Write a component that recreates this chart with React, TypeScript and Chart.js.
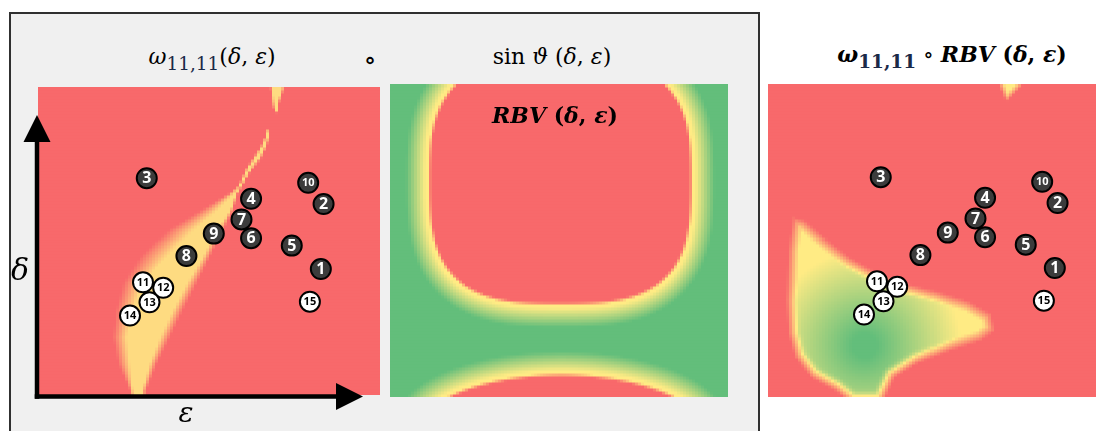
import React, { useEffect, useRef } from 'react';
import { Chart, registerables } from 'chart.js';

Chart.register(...registerables);

// ---------- data (ε horizontal, δ vertical; both) ----------
const MARKER_LABELS = ['1', '2', '3', '4', '5', '6', '7', '8', '9', '10', '11', '12', '13', '14', '15'];
const MARKER_EPS = [82.7, 83.5, 31.8, 62.3, 74.2, 62.3, 59.5, 43.4, 51.4, 79.0, 30.7, 36.6, 32.6, 26.9, 79.5];
const MARKER_DELTA = [40.9, 62.0, 70.4, 63.7, 48.5, 50.9, 57.0, 45.1, 52.4, 68.9, 36.6, 34.8, 30.1, 25.8, 30.3];
const MARKER_KIND = ['dark', 'dark', 'dark', 'dark', 'dark', 'dark', 'dark', 'dark', 'dark', 'dark', 'light', 'light', 'light', 'light', 'light'];

// ω_{11,11}(δ, ε): the yellow ridge, row by row (δ) — outer edges and yellow core (ε)
const OMEGA_DELTA = [0, 1.6, 10.4, 18.8, 27.6, 36.4, 44.8, 53.6, 60.1, 65.9, 67.9, 73.1, 77.3, 81.2, 84.4, 86.4, 86.7, 91.6, 91.9, 95.8, 100];
const OMEGA_EDGE_L = [26.9, 26.9, 23.4, 21.9, 22.8, 24.9, 29.8, 37.7, 47.4, 56.1, 58.5, 60.5, 62.9, 65.2, 66.4, 67.0, 67.5, 69.6, 69.0, 68.4, 67.8];
const OMEGA_CORE_L = [28.1, 27.8, 26.9, 26.0, 27.8, 30.7, 37.7, 45.3, 52.3, 57.3, 58.9, 61.1, 63.7, 65.8, 67.0, 67.3, 67.5, 69.6, 69.3, 69.0, 68.7];
const OMEGA_CORE_R = [30.4, 30.4, 32.7, 35.7, 39.5, 43.6, 48.2, 52.3, 56.1, 57.9, 59.2, 61.7, 64.6, 66.4, 67.3, 67.5, 67.5, 69.6, 69.6, 70.2, 71.3];
const OMEGA_EDGE_R = [31.6, 31.6, 34.8, 38.6, 42.4, 46.5, 50.3, 54.1, 57.0, 58.5, 59.6, 62.3, 65.5, 67.0, 67.8, 67.8, 67.5, 69.6, 69.9, 70.8, 72.2];
const OMEGA_PEAK = 0.44;

// RBV(δ, ε): two red (low) regions – a rounded square on top and an ellipse at the bottom
const RBV_CENTER_EPS = [50.4, 50.7];
const RBV_CENTER_DELTA = [69.0, -11.5];
const RBV_HALF_EPS = [39.2, 43.1];
const RBV_HALF_DELTA = [39.5, 19.2];
const RBV_POWER = [3, 2];

// ω ∘ RBV: the favourable (yellow–green) lobe and the small tip at the top
const BLOB_EPS = [6.1, 9.6, 15.5, 23.1, 31.0, 39.8, 47.7, 57.3, 64.0, 65.2, 61.1, 52.3, 42.7, 36.0, 32.5, 23.1, 18.4, 11.4, 6.7, 4.7, 4.1, 4.7];
const BLOB_DELTA = [57.5, 56.5, 51.0, 44.5, 39.6, 36.0, 33.8, 30.5, 26.3, 20.8, 17.5, 14.3, 10.1, 5.5, -2.9, -2.9, 1.3, 5.5, 12.0, 19.8, 30.5, 46.8];
const TIP_EPS = [65.2, 75.4, 68.4];
const TIP_DELTA = [102.6, 102.6, 94.8];
const GREEN_CORE = [27.2, 15.9, 28.0]; // ε, δ, reach (ε units)

// ---------- colour scale (red – yellow – green) ----------
const RED = [248, 105, 107];
const YELLOW = [255, 235, 132];
const GREEN = [99, 190, 123];

function clamp01(v: number) {
  return v < 0 ? 0 : v > 1 ? 1 : v;
}

function scaleColor(v: number): string {
  const t = clamp01(v);
  let a = RED, b = YELLOW, f = t / 0.5;
  if (t > 0.5) {
    a = YELLOW; b = GREEN; f = (t - 0.5) / 0.5;
  }
  const c = a.map((x, i) => Math.round(x + (b[i] - x) * f));
  return `rgb(${c[0]},${c[1]},${c[2]})`;
}

// ---------- value functions ----------
function omegaValue(e: number, d: number): number {
  const D = OMEGA_DELTA;
  if (d < D[0] || d > D[D.length - 1]) return 0;
  let i = 0;
  while (i < D.length - 2 && d > D[i + 1]) i++;
  const t = (d - D[i]) / (D[i + 1] - D[i]);
  const lp = (arr: number[]) => arr[i] + (arr[i + 1] - arr[i]) * t;
  const L = lp(OMEGA_EDGE_L), CL = lp(OMEGA_CORE_L), CR = lp(OMEGA_CORE_R), R = lp(OMEGA_EDGE_R);
  if (e <= L || e >= R) return 0;
  let f = 1;
  if (e < CL) f = (e - L) / Math.max(1e-6, CL - L);
  else if (e > CR) f = (R - e) / Math.max(1e-6, R - CR);
  return OMEGA_PEAK * clamp01(f);
}

function makeRbv(chart: any) {
  const xs = chart.scales.x, ys = chart.scales.y;
  const shapes = RBV_CENTER_EPS.map((ce, k) => {
    const cx = xs.getPixelForValue(ce);
    const cy = ys.getPixelForValue(RBV_CENTER_DELTA[k]);
    const ax = Math.abs(xs.getPixelForValue(ce + RBV_HALF_EPS[k]) - cx);
    const by = Math.abs(ys.getPixelForValue(RBV_CENTER_DELTA[k] + RBV_HALF_DELTA[k]) - cy);
    return { cx, cy, ax, by, p: RBV_POWER[k] };
  });
  const ring = (s: number) => {
    if (s < -3) return 0;
    if (s < 0) return 0.5 * (s + 3) / 3;
    if (s < 2.5) return 0.5;
    if (s < 22) return 0.5 + 0.5 * (s - 2.5) / 19.5;
    return 1;
  };
  return (_e: number, _d: number, px: number, py: number) => {
    let v = 1;
    for (const sh of shapes) {
      const u = Math.abs(px - sh.cx) / sh.ax;
      const w = Math.abs(py - sh.cy) / sh.by;
      const g = Math.pow(u, sh.p) + Math.pow(w, sh.p);
      const r = Math.pow(g, 1 / sh.p);
      if (r < 0.6) { v = 0; continue; }
      const common = Math.pow(g, 1 / sh.p - 1);
      const gx = Math.pow(u, sh.p - 1) * common / sh.ax;
      const gy = Math.pow(w, sh.p - 1) * common / sh.by;
      const grad = Math.hypot(gx, gy) || 1e-6;
      const s = (r - 1) / grad;
      v = Math.min(v, ring(s));
    }
    return v;
  };
}

function polySigned(px: number, py: number, X: number[], Y: number[]): number {
  let inside = false;
  let minD = Infinity;
  const n = X.length;
  for (let i = 0, j = n - 1; i < n; j = i++) {
    const xi = X[i], yi = Y[i], xj = X[j], yj = Y[j];
    if ((yi > py) !== (yj > py) && px < ((xj - xi) * (py - yi)) / (yj - yi) + xi) inside = !inside;
    const dx = xj - xi, dy = yj - yi;
    const L2 = dx * dx + dy * dy;
    let t = L2 ? ((px - xi) * dx + (py - yi) * dy) / L2 : 0;
    t = clamp01(t);
    const ex = xi + t * dx - px, ey = yi + t * dy - py;
    const dd = Math.hypot(ex, ey);
    if (dd < minD) minD = dd;
  }
  return inside ? minD : -minD;
}

function makeComposite(chart: any) {
  const xs = chart.scales.x, ys = chart.scales.y;
  const bx = BLOB_EPS.map((e) => xs.getPixelForValue(e));
  const by = BLOB_DELTA.map((d) => ys.getPixelForValue(d));
  const tx = TIP_EPS.map((e) => xs.getPixelForValue(e));
  const ty = TIP_DELTA.map((d) => ys.getPixelForValue(d));
  const gx = xs.getPixelForValue(GREEN_CORE[0]);
  const gy = ys.getPixelForValue(GREEN_CORE[1]);
  const reach = Math.abs(xs.getPixelForValue(GREEN_CORE[0] + GREEN_CORE[2]) - gx);
  return (_e: number, _d: number, px: number, py: number) => {
    const s1 = polySigned(px, py, bx, by);
    let v1 = 0.5 * clamp01(s1 / 11);
    if (s1 > 0) {
      const dist = Math.hypot(px - gx, py - gy);
      const gf = clamp01(1.15 * (1 - dist / reach)) * clamp01(s1 / 14);
      v1 += 0.5 * gf;
    }
    const s2 = polySigned(px, py, tx, ty);
    const v2 = 0.5 * clamp01(s2 / 6);
    return Math.max(v1, v2);
  };
}

// ---------- plugins ----------
function heatmapPlugin(nx: number, ny: number, makeValue: (chart: any) => (e: number, d: number, px: number, py: number) => number) {
  return {
    id: 'heatmap',
    beforeDatasetsDraw(chart: any) {
      const { ctx, chartArea: a } = chart;
      const xs = chart.scales.x, ys = chart.scales.y;
      const fn = makeValue(chart);
      ctx.save();
      ctx.beginPath();
      ctx.rect(a.left, a.top, a.right - a.left, a.bottom - a.top);
      ctx.clip();
      for (let i = 0; i < nx; i++) {
        const e0 = xs.min + ((xs.max - xs.min) * i) / nx;
        const e1 = xs.min + ((xs.max - xs.min) * (i + 1)) / nx;
        const px0 = Math.round(xs.getPixelForValue(e0));
        const px1 = Math.round(xs.getPixelForValue(e1));
        const ec = (e0 + e1) / 2;
        const pxc = xs.getPixelForValue(ec);
        for (let j = 0; j < ny; j++) {
          const d0 = ys.min + ((ys.max - ys.min) * j) / ny;
          const d1 = ys.min + ((ys.max - ys.min) * (j + 1)) / ny;
          const pyTop = Math.round(ys.getPixelForValue(d1));
          const pyBot = Math.round(ys.getPixelForValue(d0));
          const dc = (d0 + d1) / 2;
          const pyc = ys.getPixelForValue(dc);
          ctx.fillStyle = scaleColor(fn(ec, dc, pxc, pyc));
          ctx.fillRect(px0, pyTop, px1 - px0 + 0.5, pyBot - pyTop + 0.5);
        }
      }
      ctx.restore();
    },
  };
}

const markerLabelPlugin = {
  id: 'markerLabels',
  afterDatasetsDraw(chart: any) {
    const meta = chart.getDatasetMeta(0);
    if (!meta || !meta.data) return;
    const ctx = chart.ctx;
    ctx.save();
    ctx.textAlign = 'center';
    ctx.textBaseline = 'middle';
    meta.data.forEach((el: any, i: number) => {
      const lbl = MARKER_LABELS[i];
      const dark = MARKER_KIND[i] === 'dark';
      const size = lbl.length > 1 ? 11 : 16;
      ctx.font = `bold ${size}px "Open Sans", "Noto Sans", sans-serif`;
      ctx.fillStyle = dark ? '#ffffff' : '#000000';
      ctx.fillText(lbl, el.x, el.y + 0.5);
    });
    ctx.restore();
  },
};

const axisArrowPlugin = {
  id: 'axisArrows',
  afterDraw(chart: any) {
    const { ctx, chartArea: a } = chart;
    const x0 = a.left - 1;
    const y0 = a.bottom + 1.5;
    ctx.save();
    ctx.strokeStyle = '#000';
    ctx.fillStyle = '#000';
    ctx.lineWidth = 4.5;
    ctx.beginPath();
    ctx.moveTo(x0, y0 + 2.25);
    ctx.lineTo(x0, a.top + 50);
    ctx.stroke();
    ctx.beginPath();
    ctx.moveTo(x0 - 2.25, y0);
    ctx.lineTo(a.right - 40, y0);
    ctx.stroke();
    ctx.beginPath();
    ctx.moveTo(x0, a.top + 28);
    ctx.lineTo(x0 - 13.5, a.top + 55);
    ctx.lineTo(x0 + 13.5, a.top + 55);
    ctx.closePath();
    ctx.fill();
    ctx.beginPath();
    ctx.moveTo(a.right - 17, y0);
    ctx.lineTo(a.right - 44, y0 - 13.5);
    ctx.lineTo(a.right - 44, y0 + 13.5);
    ctx.closePath();
    ctx.fill();
    ctx.restore();
  },
};

// ---------- chart config ----------
type PanelOpts = {
  xMin: number; xMax: number; yMin: number; yMax: number;
  nx: number; ny: number;
  makeValue: (chart: any) => (e: number, d: number, px: number, py: number) => number;
  markers: boolean;
  padding: { left: number; right: number; top: number; bottom: number };
  extra: any[];
};

function panelConfig(o: PanelOpts): any {
  const datasets = o.markers
    ? [
        {
          data: MARKER_EPS.map((e, i) => ({ x: e, y: MARKER_DELTA[i] })),
          pointRadius: 10,
          pointHoverRadius: 10,
          pointBorderWidth: 2,
          pointHoverBorderWidth: 2,
          pointBackgroundColor: MARKER_KIND.map((k) => (k === 'dark' ? '#3c3c3c' : '#ffffff')),
          pointBorderColor: '#000000',
          showLine: false,
        },
      ]
    : [];
  return {
    type: 'scatter',
    data: { datasets },
    options: {
      responsive: false,
      animation: false,
      devicePixelRatio: 1,
      events: [],
      layout: { padding: o.padding, autoPadding: false },
      scales: {
        x: { type: 'linear', min: o.xMin, max: o.xMax, display: false },
        y: { type: 'linear', min: o.yMin, max: o.yMax, display: false },
      },
      plugins: { legend: { display: false }, tooltip: { enabled: false }, title: { display: false } },
    },
    plugins: [heatmapPlugin(o.nx, o.ny, o.makeValue), ...(o.markers ? [markerLabelPlugin] : []), ...o.extra],
  };
}

function Panel(props: { left: number; top: number; width: number; height: number; opts: PanelOpts }) {
  const ref = useRef<HTMLCanvasElement>(null);
  useEffect(() => {
    const chart = new Chart(ref.current as HTMLCanvasElement, panelConfig(props.opts));
    return () => chart.destroy();
  }, []);
  return (
    <canvas
      ref={ref}
      width={props.width}
      height={props.height}
      style={{ position: 'absolute', left: props.left, top: props.top, width: props.width, height: props.height }}
    />
  );
}

const SERIF = '"DejaVu Serif", "Liberation Serif", serif';

function Label(props: { x: number; y: number; size: number; bold?: boolean; children: any }) {
  return (
    <div
      style={{
        position: 'absolute',
        left: props.x,
        top: props.y,
        transform: 'translate(-50%, -50%)',
        whiteSpace: 'nowrap',
        fontFamily: SERIF,
        fontSize: props.size,
        fontWeight: props.bold ? 'bold' : 'normal',
        lineHeight: 1,
        color: '#000',
      }}
    >
      {props.children}
    </div>
  );
}

const Sub = (p: { children: any; bold?: boolean }) => (
  <span style={{ fontSize: '0.84em', position: 'relative', top: '0.3em', color: '#1b2a48', fontWeight: p.bold ? 'bold' : 'normal', fontStyle: 'normal' }}>
    {p.children}
  </span>
);

export default function App() {
  const omegaOpts: PanelOpts = {
    xMin: 0, xMax: 100, yMin: 0, yMax: 100, nx: 114, ny: 103,
    makeValue: () => omegaValue,
    markers: true,
    padding: { left: 38, right: 10, top: 7, bottom: 36 },
    extra: [axisArrowPlugin],
  };
  const rbvOpts: PanelOpts = {
    xMin: 0, xMax: 100, yMin: 0, yMax: 100, nx: 113, ny: 104,
    makeValue: makeRbv,
    markers: false,
    padding: { left: 0, right: 0, top: 0, bottom: 0 },
    extra: [],
  };
  const compOpts: PanelOpts = {
    xMin: -1.17, xMax: 94.74, yMin: -0.97, yMax: 100.65, nx: 109, ny: 104,
    makeValue: makeComposite,
    markers: true,
    padding: { left: 0, right: 0, top: 0, bottom: 0 },
    extra: [],
  };
  return (
    <div style={{ position: 'absolute', left: 0, top: 0, width: 1096, height: 431, overflow: 'hidden', background: '#ffffff' }}>
      <div
        style={{
          position: 'absolute', left: 9, top: 12, width: 751, height: 440, boxSizing: 'border-box',
          border: '2px solid #303030', background: '#f0f0f0',
        }}
      />
      <Panel left={0} top={80} width={390} height={351} opts={omegaOpts} />
      <Panel left={390} top={84} width={338} height={313} opts={rbvOpts} />
      <Panel left={768} top={84} width={328} height={313} opts={compOpts} />

      <Label x={212} y={57} size={22}>
        <i>ω</i><Sub>11,11</Sub>(<i>δ</i>, <i>ε</i>)
      </Label>
      <Label x={370} y={59} size={27}>∘</Label>
      <Label x={552} y={57} size={22}>
        sin <i>ϑ</i> (<i>δ</i>, <i>ε</i>)
      </Label>
      <Label x={555} y={115} size={22} bold>
        <i>RBV</i> (<i>δ</i>, <i>ε</i>)
      </Label>
      <Label x={952} y={54} size={22} bold>
        <i>ω</i><Sub bold>11,11</Sub><span style={{ fontWeight: 'normal' }}> ∘ </span><i>RBV</i> (<i>δ</i>, <i>ε</i>)
      </Label>
      <Label x={20} y={270} size={30}>
        <i>δ</i>
      </Label>
      <Label x={186} y={413} size={28}>
        <i>ε</i>
      </Label>
    </div>
  );
}
